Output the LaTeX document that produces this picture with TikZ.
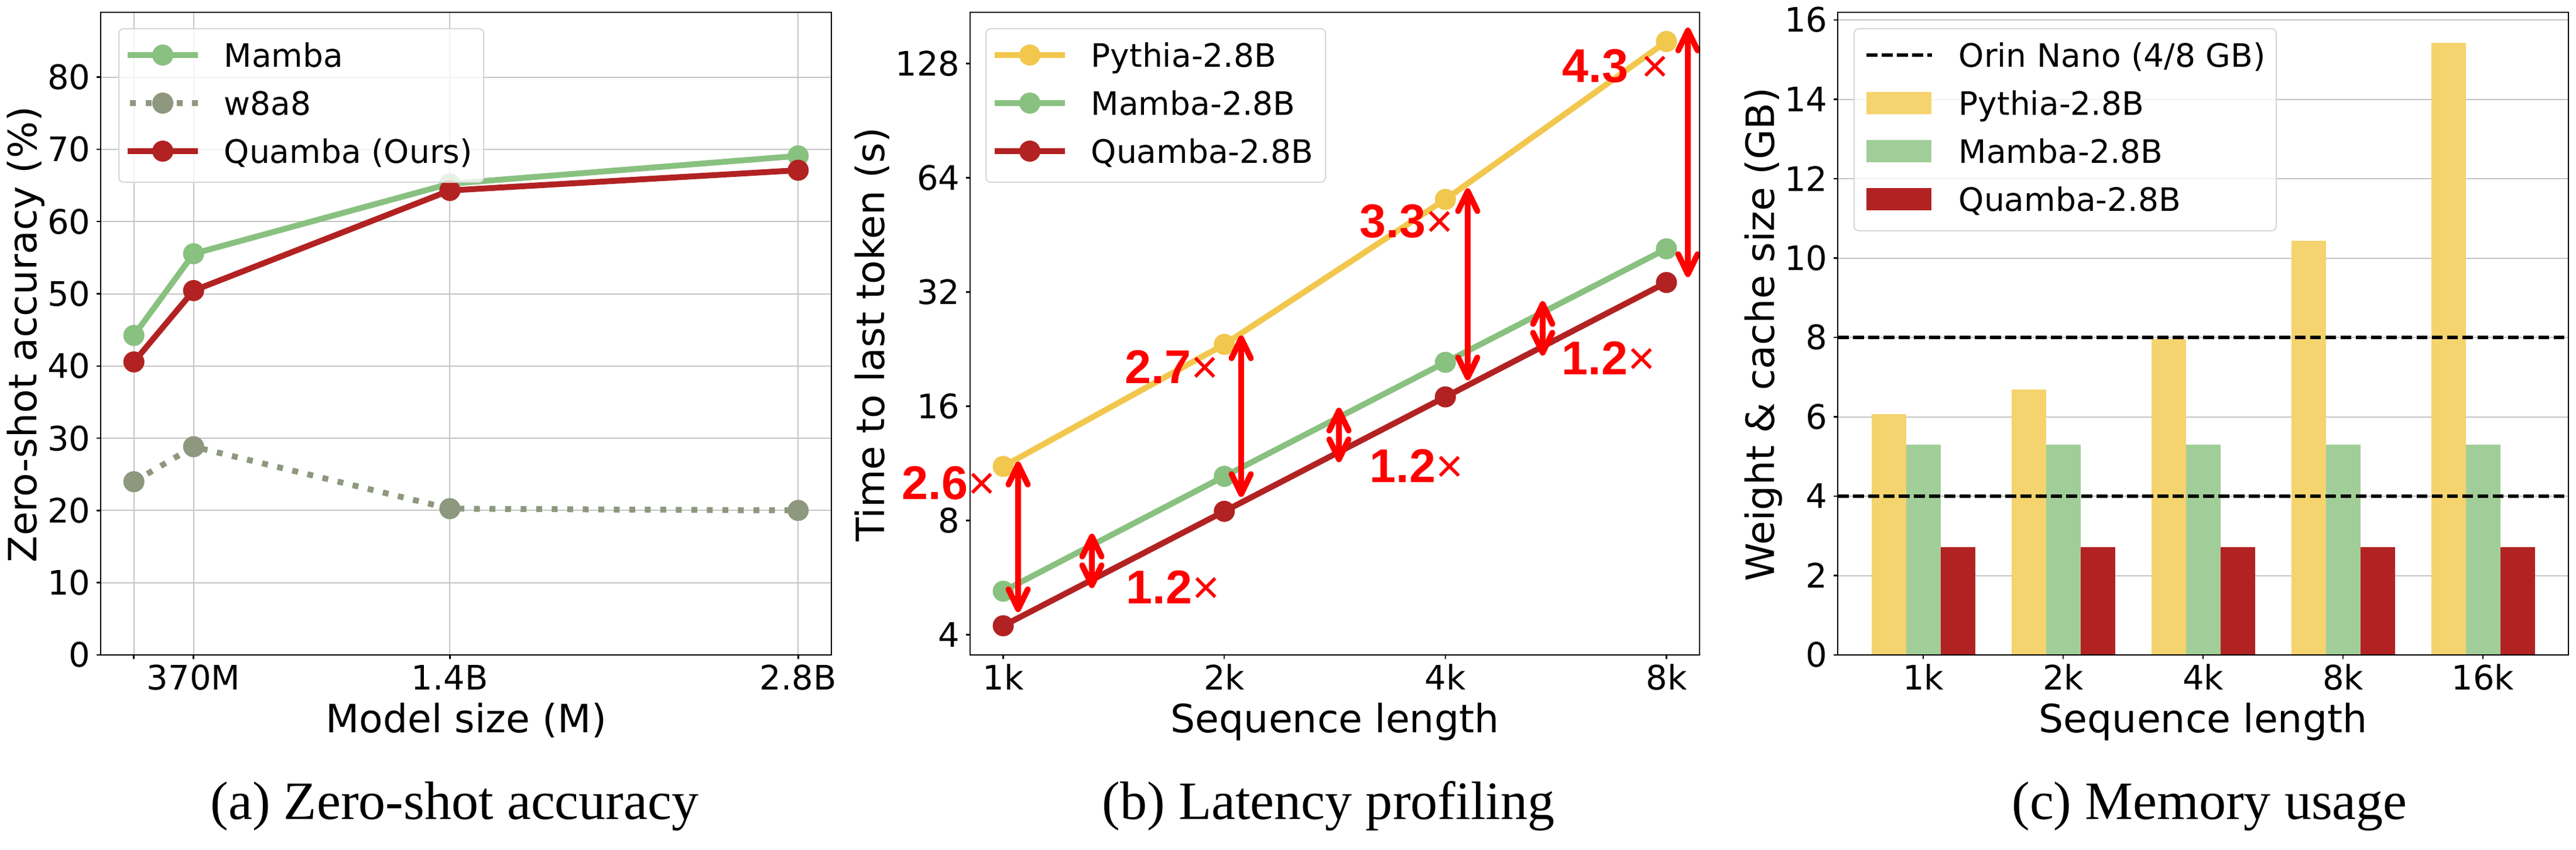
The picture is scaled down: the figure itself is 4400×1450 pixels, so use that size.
\documentclass[tikz,border=0pt]{standalone}
\usepackage{fontspec}
\setmainfont{DejaVu Sans}
\newfontfamily\lsans{Liberation Sans}
\newfontfamily\lserif{Liberation Serif}
\usetikzlibrary{arrows.meta}
\definecolor{mambaG}{HTML}{89C180}
\definecolor{wEightG}{HTML}{8D987E}
\definecolor{quambaR}{HTML}{B22222}
\definecolor{pythiaY}{HTML}{F2C74D}
\definecolor{barY}{HTML}{F5D36E}
\definecolor{barG}{HTML}{A1CE98}
\definecolor{barR}{HTML}{B22222}
\definecolor{gridc}{HTML}{C4C4C4}
\definecolor{legc}{HTML}{D6D6D6}
\definecolor{annR}{HTML}{FF0000}
\tikzset{
  ticklab/.style={font=\fontsize{16.36pt}{18pt}\selectfont, inner sep=0pt},
  leglab/.style={font=\fontsize{15.65pt}{18pt}\selectfont, inner sep=0pt, anchor=base west},
  axlab/.style={font=\fontsize{18.9pt}{22pt}\selectfont, inner sep=0pt, anchor=base},
  capt/.style={font=\lserif\fontsize{26.2pt}{30pt}\selectfont, inner sep=0pt, anchor=base},
  ann/.style={font=\lsans\bfseries\fontsize{23pt}{26pt}\selectfont, text=annR, inner sep=0pt, anchor=base west},
  axframe/.style={draw=black, line width=0.25mm},
  gridline/.style={draw=gridc, line width=0.2mm},
  tickmark/.style={draw=black, line width=0.25mm},
  series/.style={line width=1mm, line cap=rect, line join=round},
  dotseries/.style={line width=1mm, line cap=butt, dash pattern=on 1mm off 1.65mm},
  legbox/.style={draw=legc, line width=0.2mm, fill=white, fill opacity=0.8, rounded corners=0.8mm},
  dblarrow/.style={draw=annR, line width=1mm, >={Straight Barb[length=3.4mm,width=3.3mm,round]}, <->},
  limitline/.style={draw=black, line width=0.65mm, dash pattern=on 1.85mm off 0.75mm},
}
\begin{document}
\begin{tikzpicture}[x=0.01cm,y=-0.01cm]
\fill[white] (0,0) rectangle (4400,1450);
\useasboundingbox (0,0) rectangle (4400,1450);

%================ (a) Zero-shot accuracy =================
\foreach \v in {0,10,...,80} {
  \pgfmathsetmacro\yy{1118-12.33*\v}
  \draw[gridline] (172,\yy) -- (1420,\yy);
  \draw[tickmark] (172,\yy) -- (165,\yy);
  \node[ticklab, anchor=east] (ay\v) at (155,\yy) {\v};
}
\foreach \xx/\lab [count=\i] in {228.7/{}, 330.7/370M, 768.4/1.4B, 1363.3/2.8B} {
  \draw[gridline] (\xx,21) -- (\xx,1118);
  \draw[tickmark] (\xx,1118) -- (\xx,1125);
  \node[ticklab, anchor=base] (ax\i) at (\xx,1177) {\lab};
}
% series
\draw[series, mambaG] (228.7,572.6) -- (330.7,433.1) -- (768.4,313.6) -- (1363.3,266.1);
\foreach \xx/\yy in {228.7/572.6, 330.7/433.1, 768.4/313.6, 1363.3/266.1}
  \fill[mambaG] (\xx,\yy) circle[radius=1.8mm];
\draw[dotseries, wEightG] (228.7,822.3) -- (330.7,762.5) -- (768.4,868.3) -- (1363.3,871.3);
\foreach \xx/\yy in {228.7/822.3, 330.7/762.5, 768.4/868.3, 1363.3/871.3}
  \fill[wEightG] (\xx,\yy) circle[radius=1.8mm];
\draw[series, quambaR] (228.7,617.8) -- (330.7,496) -- (768.4,325.1) -- (1363.3,290.6);
\foreach \xx/\yy in {228.7/617.8, 330.7/496, 768.4/325.1, 1363.3/290.6}
  \fill[quambaR] (\xx,\yy) circle[radius=1.8mm];
\draw[axframe] (172,21) rectangle (1420,1118);
% legend
\draw[legbox] (203,49) rectangle (826,311);
\draw[series, mambaG, line cap=butt] (218,94) -- (338,94);
\fill[mambaG] (278,94) circle[radius=1.8mm];
\node[leglab] (la1) at (382,114) {Mamba};
\draw[dotseries, wEightG] (222,176) -- (338,176);
\fill[wEightG] (278,176) circle[radius=1.8mm];
\node[leglab] (la2) at (382,196) {w8a8};
\draw[series, quambaR, line cap=butt] (218,258) -- (338,258);
\fill[quambaR] (278,258) circle[radius=1.8mm];
\node[leglab] (la3) at (382,278) {Quamba (Ours)};
% labels
\node[axlab, rotate=90] (aylab) at (62,571) {Zero-shot accuracy (\%)};
\node[axlab] (axlab) at (796,1250) {Model size (M)};
\node[capt] (acap) at (776.5,1398) {(a) Zero-shot accuracy};

%================ (b) Latency profiling =================
\foreach \k/\lab in {0/4,1/8,2/16,3/32,4/64,5/128} {
  \pgfmathsetmacro\yy{1083.5-195*\k}
  \draw[tickmark] (1657,\yy) -- (1650,\yy);
  \node[ticklab, anchor=east] (by\k) at (1640,\yy) {\lab};
}
\foreach \xx/\lab [count=\i] in {1713.6/1k, 2091.2/2k, 2468.8/4k, 2846.4/8k} {
  \draw[tickmark] (\xx,1118) -- (\xx,1125);
  \node[ticklab, anchor=base] (bx\i) at (\xx,1177) {\lab};
}
\draw[series, pythiaY] (1713.6,796.2) -- (2091.2,587.9) -- (2468.8,340.4) -- (2846.4,70.8);
\foreach \xx/\yy in {1713.6/796.2, 2091.2/587.9, 2468.8/340.4, 2846.4/70.8}
  \fill[pythiaY] (\xx,\yy) circle[radius=1.8mm];
\draw[series, mambaG] (1713.6,1009.2) -- (2091.2,813.1) -- (2468.8,618.5) -- (2846.4,424.7);
\foreach \xx/\yy in {1713.6/1009.2, 2091.2/813.1, 2468.8/618.5, 2846.4/424.7}
  \fill[mambaG] (\xx,\yy) circle[radius=1.8mm];
\draw[series, quambaR] (1713.6,1068.2) -- (2091.2,872.8) -- (2468.8,677.5) -- (2846.4,482.2);
\foreach \xx/\yy in {1713.6/1068.2, 2091.2/872.8, 2468.8/677.5, 2846.4/482.2}
  \fill[quambaR] (\xx,\yy) circle[radius=1.8mm];
% speed-up arrows
\coordinate (b1t) at (1739,788);   \coordinate (b1b) at (1739,1045);
\coordinate (b2t) at (2120,572.6); \coordinate (b2b) at (2120,848.3);
\coordinate (b3t) at (2507,321.3); \coordinate (b3b) at (2507,649.2);
\coordinate (b4t) at (2883,47);    \coordinate (b4b) at (2883,473);
\coordinate (s1t) at (1865,911);   \coordinate (s1b) at (1865,1004);
\coordinate (s2t) at (2287,696);   \coordinate (s2b) at (2287,789);
\coordinate (s3t) at (2635,514);   \coordinate (s3b) at (2635,607);
\draw[dblarrow] (b1t) -- (b1b);
\draw[dblarrow] (b2t) -- (b2b);
\draw[dblarrow] (b3t) -- (b3b);
\draw[dblarrow] (b4t) -- (b4b);
\draw[dblarrow] (s1t) -- (s1b);
\draw[dblarrow] (s2t) -- (s2b);
\draw[dblarrow] (s3t) -- (s3b);
\node[ann] (t26) at (1540,852) {2.6{\mdseries ×}};
\node[ann] (t27) at (1921,654.5) {2.7{\mdseries ×}};
\node[ann] (t33) at (2322,405.6) {3.3{\mdseries ×}};
\node[ann] (t43) at (2668,140) {4.3 {\mdseries ×}};
\node[ann] (t12a) at (1923,1030) {1.2{\mdseries ×}};
\node[ann] (t12b) at (2339,823) {1.2{\mdseries ×}};
\node[ann] (t12c) at (2667,639) {1.2{\mdseries ×}};
\draw[axframe] (1657,21) rectangle (2903,1118);
% legend
\draw[legbox] (1684,49) rectangle (2264,311);
\draw[series, pythiaY, line cap=butt] (1699,94) -- (1819,94);
\fill[pythiaY] (1759,94) circle[radius=1.8mm];
\node[leglab] (lb1) at (1863,114) {Pythia-2.8B};
\draw[series, mambaG, line cap=butt] (1699,176) -- (1819,176);
\fill[mambaG] (1759,176) circle[radius=1.8mm];
\node[leglab] (lb2) at (1863,196) {Mamba-2.8B};
\draw[series, quambaR, line cap=butt] (1699,258) -- (1819,258);
\fill[quambaR] (1759,258) circle[radius=1.8mm];
\node[leglab] (lb3) at (1863,278) {Quamba-2.8B};
\node[axlab, rotate=90] (bylab) at (1510,571) {Time to last token (s)};
\node[axlab] (bxlab) at (2280,1250) {Sequence length};
\node[capt] (bcap) at (2269,1398) {(b) Latency profiling};

%================ (c) Memory usage =================
\foreach \v in {0,2,...,16} {
  \pgfmathsetmacro\yy{1118-67.75*\v}
  \draw[gridline] (3139,\yy) -- (4387,\yy);
  \draw[tickmark] (3139,\yy) -- (3132,\yy);
  \node[ticklab, anchor=east] (cy\v) at (3122,\yy) {\v};
}
\foreach \cc/\py/\lab [count=\i] in {3285/707.4/1k, 3524/665.4/2k, 3763/579.4/4k, 4002/410.7/8k, 4241/73/16k} {
  \fill[barY] (\cc-88.5,\py) rectangle (\cc-29.5,1118);
  \fill[barG] (\cc-29.5,758.9) rectangle (\cc+29.5,1118);
  \fill[barR] (\cc+29.5,933.7) rectangle (\cc+88.5,1118);
  \draw[tickmark] (\cc,1118) -- (\cc,1125);
  \node[ticklab, anchor=base] (cx\i) at (\cc,1177) {\lab};
}
\draw[limitline] (3139,847) -- (4387,847);
\draw[limitline] (3139,576) -- (4387,576);
\draw[axframe] (3139,21) rectangle (4387,1118);
% legend
\draw[legbox] (3167,49) rectangle (3888,394);
\draw[limitline] (3188,94) -- (3300,94);
\node[leglab] (lc1) at (3345,114) {Orin Nano (4/8 GB)};
\fill[barY] (3188,157) rectangle (3299,195);
\node[leglab] (lc2) at (3345,196) {Pythia-2.8B};
\fill[barG] (3188,239) rectangle (3299,277);
\node[leglab] (lc3) at (3345,278) {Mamba-2.8B};
\fill[barR] (3188,321) rectangle (3299,359);
\node[leglab] (lc4) at (3345,360) {Quamba-2.8B};
\node[axlab, rotate=90] (cylab) at (3030,571) {Weight \& cache size (GB)};
\node[axlab] (cxlab) at (3763,1250) {Sequence length};
\node[capt] (ccap) at (3774,1398) {(c) Memory usage};
\end{tikzpicture}
\end{document}
